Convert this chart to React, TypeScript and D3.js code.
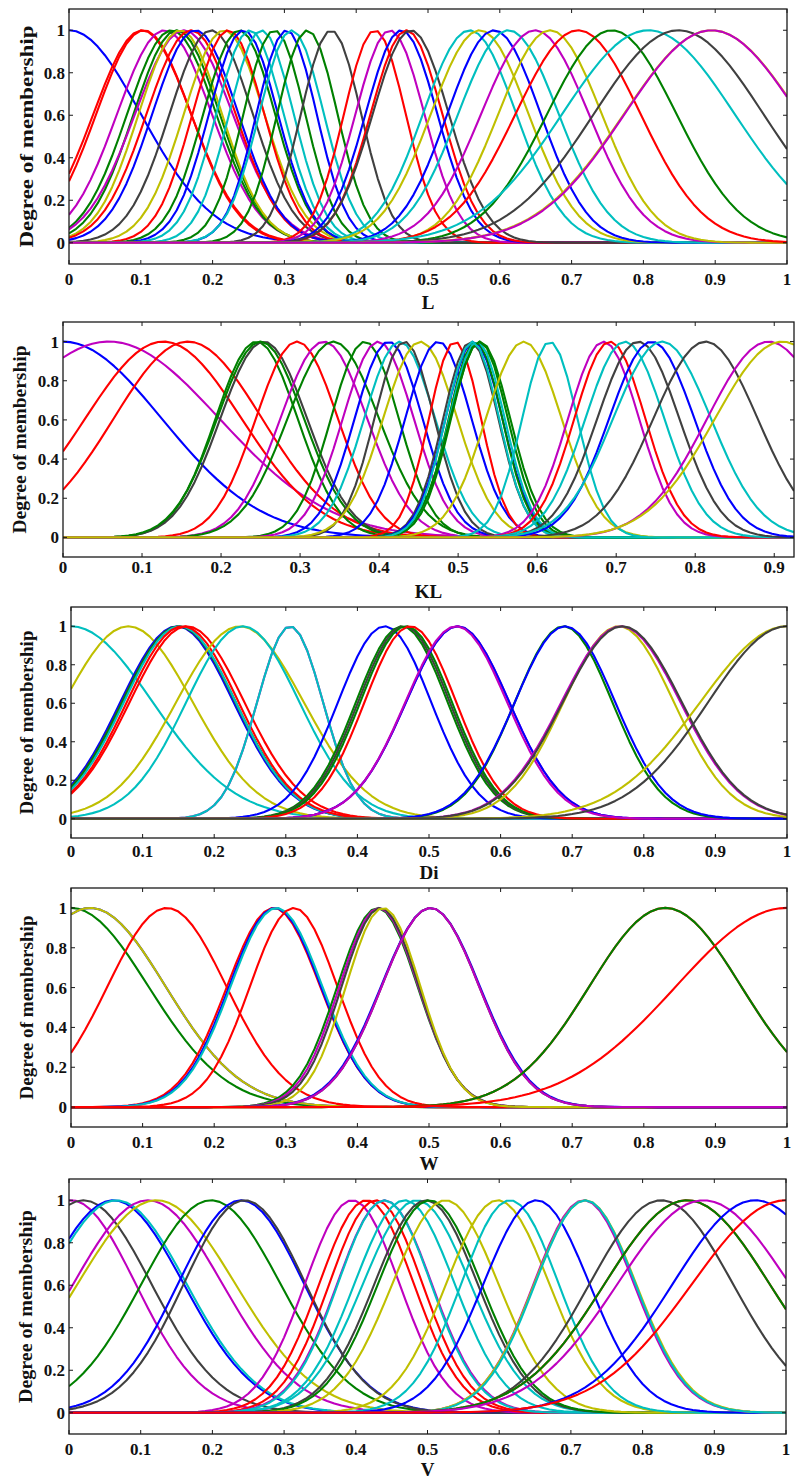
import React from "react";
import * as d3 from "d3";

const COLOR: Record<string, string> = {
  b: "#0000ff",
  g: "#008000",
  r: "#ff0000",
  c: "#00bfbf",
  m: "#bf00bf",
  y: "#bfbf00",
  k: "#404040",
};

// ---- Panel L : Gaussian membership functions (center, sigma, colour)
const lCenters = [0.0, 0.102, 0.104, 0.133, 0.143, 0.15, 0.16, 0.155, 0.17, 0.176, 0.198, 0.216, 0.222, 0.237, 0.243, 0.252, 0.268, 0.286, 0.303, 0.31, 0.332, 0.365, 0.426, 0.447, 0.463, 0.47, 0.476, 0.558, 0.572, 0.592, 0.612, 0.649, 0.67, 0.709, 0.756, 0.807, 0.849, 0.895, 0.895];
const lSigmas = [0.1, 0.068, 0.066, 0.066, 0.062, 0.06, 0.068, 0.058, 0.062, 0.06, 0.058, 0.056, 0.05, 0.05, 0.048, 0.047, 0.045, 0.043, 0.042, 0.045, 0.042, 0.042, 0.043, 0.048, 0.05, 0.05, 0.053, 0.065, 0.068, 0.065, 0.07, 0.075, 0.072, 0.087, 0.09, 0.12, 0.118, 0.122, 0.121];
const lColors = "brrmggmyrbkyrgbccgbcgkrmbrkcybcmyrgckym";

// ---- Panel KL
const klCenters = [0.0, 0.058, 0.127, 0.158, 0.245, 0.254, 0.25, 0.296, 0.33, 0.342, 0.382, 0.399, 0.412, 0.426, 0.432, 0.452, 0.475, 0.496, 0.516, 0.52, 0.522, 0.524, 0.527, 0.528, 0.518, 0.583, 0.616, 0.684, 0.692, 0.711, 0.728, 0.745, 0.758, 0.813, 0.893, 0.91];
const klSigmas = [0.125, 0.14, 0.099, 0.094, 0.052, 0.055, 0.055, 0.052, 0.055, 0.058, 0.043, 0.045, 0.043, 0.045, 0.038, 0.047, 0.042, 0.033, 0.035, 0.036, 0.034, 0.035, 0.036, 0.038, 0.034, 0.048, 0.035, 0.045, 0.045, 0.05, 0.052, 0.054, 0.062, 0.066, 0.078, 0.085];
const klColors = "bmrrgkgrmggmbckybrkbgcggcycmrckbckmy";

// ---- Panel Di
const diCenters = [0.0, 0.08, 0.148, 0.15, 0.151, 0.152, 0.156, 0.162, 0.236, 0.24, 0.306, 0.306, 0.438, 0.462, 0.465, 0.468, 0.474, 0.54, 0.54, 0.538, 0.688, 0.69, 0.765, 0.768, 0.77, 1.0, 1.0];
const diSigmas = [0.114, 0.09, 0.079, 0.079, 0.079, 0.078, 0.078, 0.08, 0.089, 0.079, 0.046, 0.046, 0.065, 0.064, 0.064, 0.064, 0.064, 0.072, 0.072, 0.071, 0.068, 0.07, 0.077, 0.083, 0.083, 0.121, 0.11];
const diColors = "cybkgcrrycmcbgkgrmbmgbymkyk";

// ---- Panel W
const wCenters = [0.0, 0.027, 0.027, 0.134, 0.283, 0.285, 0.287, 0.311, 0.428, 0.43, 0.432, 0.436, 0.502, 0.502, 0.502, 0.83, 0.83, 1.0];
const wSigmas = [0.108, 0.105, 0.105, 0.083, 0.065, 0.064, 0.064, 0.061, 0.056, 0.055, 0.054, 0.052, 0.069, 0.068, 0.068, 0.106, 0.106, 0.155];
const wColors = "gbyrrbcrgmkybkmrgr";

// ---- Panel V
const vCenters = [0.003, 0.02, 0.062, 0.066, 0.11, 0.122, 0.198, 0.24, 0.245, 0.395, 0.415, 0.428, 0.44, 0.44, 0.468, 0.485, 0.498, 0.503, 0.525, 0.598, 0.615, 0.652, 0.718, 0.72, 0.72, 0.826, 0.862, 0.862, 0.885, 0.957, 1.0];
const vSigmas = [0.09, 0.095, 0.098, 0.098, 0.104, 0.11, 0.097, 0.088, 0.085, 0.066, 0.066, 0.065, 0.066, 0.065, 0.07, 0.075, 0.072, 0.072, 0.074, 0.072, 0.068, 0.074, 0.07, 0.071, 0.07, 0.1, 0.115, 0.115, 0.12, 0.115, 0.131];
const vColors = "mkbcmygbkmrrmccckgyycbmyckrgmbr";

// ---- Axis ticks
const xTicks = [0, 0.1, 0.2, 0.3, 0.4, 0.5, 0.6, 0.7, 0.8, 0.9, 1];
const xTickLabels = ["0", "0.1", "0.2", "0.3", "0.4", "0.5", "0.6", "0.7", "0.8", "0.9", "1"];
const yTicks = [0, 0.2, 0.4, 0.6, 0.8, 1];
const yTickLabels = ["0", "0.2", "0.4", "0.6", "0.8", "1"];
const panelTitles = ["L", "KL", "Di", "W", "V"];

const FONT = "'Liberation Serif', 'Times New Roman', Times, serif";

type PanelCfg = {
  title: string;
  centers: number[];
  sigmas: number[];
  colors: string;
  xMax: number;
  left: number;
  right: number;
  top: number;
  bottom: number;
  tickLabelY: number;
  titleY: number;
  yLabelX: number;
  yLabelLen: number;
};

const panels: PanelCfg[] = [
  { title: panelTitles[0], centers: lCenters, sigmas: lSigmas, colors: lColors, xMax: 1, left: 69, right: 787, top: 9, bottom: 264, tickLabelY: 285, titleY: 309, yLabelX: 26, yLabelLen: 222 },
  { title: panelTitles[1], centers: klCenters, sigmas: klSigmas, colors: klColors, xMax: 0.925, left: 63, right: 794, top: 322, bottom: 557, tickLabelY: 573, titleY: 598, yLabelX: 19, yLabelLen: 188 },
  { title: panelTitles[2], centers: diCenters, sigmas: diSigmas, colors: diColors, xMax: 1, left: 71, right: 787, top: 607, bottom: 838, tickLabelY: 857, titleY: 879, yLabelX: 26, yLabelLen: 184 },
  { title: panelTitles[3], centers: wCenters, sigmas: wSigmas, colors: wColors, xMax: 1, left: 71, right: 787, top: 888, bottom: 1127, tickLabelY: 1148, titleY: 1170, yLabelX: 26, yLabelLen: 184 },
  { title: panelTitles[4], centers: vCenters, sigmas: vSigmas, colors: vColors, xMax: 1, left: 69, right: 786, top: 1179, bottom: 1434, tickLabelY: 1455, titleY: 1476, yLabelX: 25, yLabelLen: 193 },
];

function Panel({ cfg, idx }: { cfg: PanelCfg; idx: number }) {
  const x = d3.scaleLinear().domain([0, cfg.xMax]).range([cfg.left, cfg.right]);
  const y = d3.scaleLinear().domain([-0.1, 1.1]).range([cfg.bottom, cfg.top]);
  const samples = d3.range(0, 101).map((i) => (i / 100) * cfg.xMax);
  const line = d3
    .line<number[]>()
    .x((d) => x(d[0]))
    .y((d) => y(d[1]));
  const ticksX = xTicks.filter((t) => t <= cfg.xMax + 1e-9);
  const clipId = `clip-${idx}`;
  const tl = 4;
  const midX = (cfg.left + cfg.right) / 2;
  const midY = (cfg.top + cfg.bottom) / 2;
  return (
    <g>
      <defs>
        <clipPath id={clipId}>
          <rect x={cfg.left} y={cfg.top} width={cfg.right - cfg.left} height={cfg.bottom - cfg.top} />
        </clipPath>
      </defs>
      <g clipPath={`url(#${clipId})`}>
        {cfg.centers.map((c, i) => {
          const s = cfg.sigmas[i];
          const pts = samples.map((v) => [v, Math.exp(-((v - c) * (v - c)) / (2 * s * s))]);
          return (
            <path
              key={i}
              d={line(pts) || ""}
              fill="none"
              stroke={COLOR[cfg.colors[i]]}
              strokeWidth={2.1}
              strokeLinejoin="round"
            />
          );
        })}
      </g>
      <rect
        x={cfg.left}
        y={cfg.top}
        width={cfg.right - cfg.left}
        height={cfg.bottom - cfg.top}
        fill="none"
        stroke="#1a1a1a"
        strokeWidth={1.3}
      />
      {ticksX.map((t, i) => (
        <g key={"xt" + i}>
          <line x1={x(t)} x2={x(t)} y1={cfg.bottom} y2={cfg.bottom - tl} stroke="#1a1a1a" strokeWidth={1} />
          <line x1={x(t)} x2={x(t)} y1={cfg.top} y2={cfg.top + tl} stroke="#1a1a1a" strokeWidth={1} />
          <text
            x={x(t)}
            y={cfg.tickLabelY}
            textAnchor="middle"
            fontFamily={FONT}
            fontWeight="bold"
            fontSize={17}
            fill="#111"
          >
            {xTickLabels[xTicks.indexOf(t)]}
          </text>
        </g>
      ))}
      {yTicks.map((t, i) => (
        <g key={"yt" + i}>
          <line x1={cfg.left} x2={cfg.left + tl} y1={y(t)} y2={y(t)} stroke="#1a1a1a" strokeWidth={1} />
          <line x1={cfg.right} x2={cfg.right - tl} y1={y(t)} y2={y(t)} stroke="#1a1a1a" strokeWidth={1} />
          <text
            x={cfg.left - 4}
            y={y(t)}
            dy="0.35em"
            textAnchor="end"
            fontFamily={FONT}
            fontWeight="bold"
            fontSize={17}
            fill="#111"
          >
            {yTickLabels[i]}
          </text>
        </g>
      ))}
      <text
        x={midX}
        y={cfg.titleY}
        textAnchor="middle"
        fontFamily={FONT}
        fontWeight="bold"
        fontSize={19}
        fill="#111"
      >
        {cfg.title}
      </text>
      <text
        transform={`translate(${cfg.yLabelX},${midY}) rotate(-90)`}
        textAnchor="middle"
        dy="0.35em"
        fontFamily={FONT}
        fontWeight="bold"
        fontSize={19}
        textLength={cfg.yLabelLen}
        lengthAdjust="spacingAndGlyphs"
        fill="#111"
      >
        Degree of membership
      </text>
    </g>
  );
}

export default function App() {
  return (
    <svg
      width={795}
      height={1481}
      viewBox="0 0 795 1481"
      style={{ position: "absolute", left: 0, top: 0, background: "#fff" }}
    >
      <rect x={0} y={0} width={795} height={1481} fill="#fff" />
      {panels.map((p, i) => (
        <Panel key={i} cfg={p} idx={i} />
      ))}
    </svg>
  );
}
